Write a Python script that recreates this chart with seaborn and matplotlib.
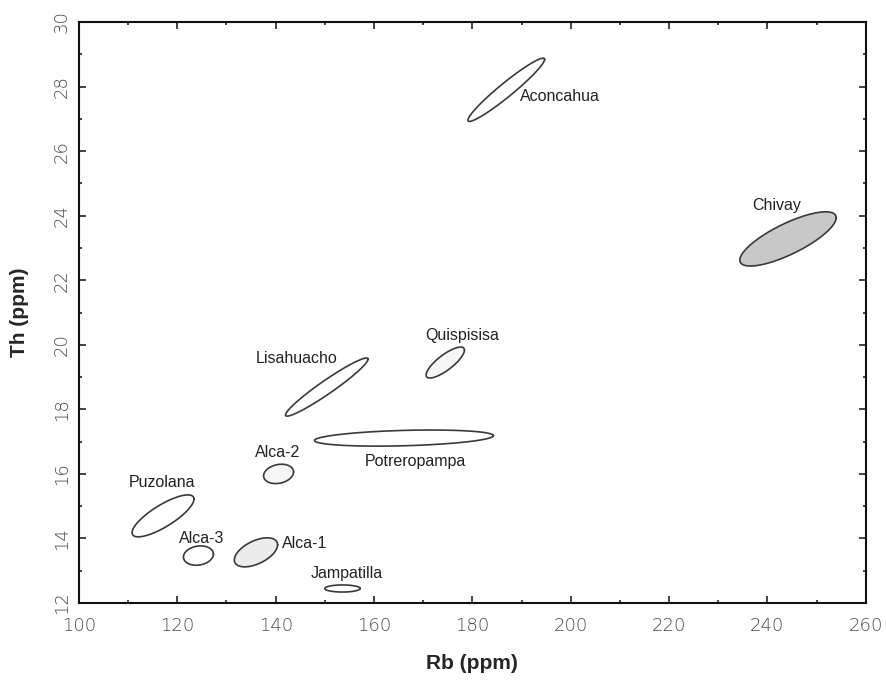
import numpy as np
import pandas as pd
import matplotlib
matplotlib.use("Agg")
import matplotlib.pyplot as plt
import seaborn as sns

# Obsidian source fields: mean Rb / Th and spread of each group
suites = ["Aconcahua", "Chivay", "Lisahuacho", "Quispisisa", "Potreropampa",
          "Puzolana", "Alca-2", "Alca-3", "Alca-1", "Jampatilla"]
rb_mean = [186.9, 244.2, 150.4, 174.5, 166.1, 117.1, 140.6, 124.3, 136.0, 153.6]
th_mean = [27.90, 23.28, 18.69, 19.45, 17.11, 14.70, 16.00, 13.47, 13.57, 12.45]
rb_spread = [7.8, 9.8, 8.4, 3.9, 18.2, 6.3, 3.05, 3.05, 4.4, 3.6]
th_spread = [0.98, 0.84, 0.90, 0.48, 0.25, 0.65, 0.30, 0.30, 0.45, 0.11]
correlation = [0.96, 0.78, 0.96, 0.80, 0.30, 0.80, 0.20, 0.15, 0.52, 0.0]

x_ticks = [100, 120, 140, 160, 180, 200, 220, 240, 260]
y_ticks = [12, 14, 16, 18, 20, 22, 24, 26, 28, 30]

# shading of each field and where its name sits (x, y, horizontal alignment)
fills = {"Chivay": "#c8c8c8", "Alca-1": "#ececec", "Alca-2": "#f6f6f6",
         "Quispisisa": "#f6f6f6"}
label_pos = {
    "Aconcahua": (189.6, 27.68, "left"),
    "Chivay": (241.8, 24.33, "center"),
    "Lisahuacho": (144.3, 19.56, "center"),
    "Quispisisa": (178.0, 20.30, "center"),
    "Potreropampa": (168.4, 16.37, "center"),
    "Puzolana": (116.8, 15.72, "center"),
    "Alca-2": (140.4, 16.65, "center"),
    "Alca-3": (124.9, 14.01, "center"),
    "Alca-1": (141.2, 13.83, "left"),
    "Jampatilla": (154.5, 12.93, "center"),
}

sns.set_theme(style="ticks")
plt.rcParams["font.family"] = ["Liberation Sans", "DejaVu Sans"]

# outline of each field: x = cx + sx cos t, y = cy + sy cos(t - phi), rho = cos(phi)
t = np.linspace(0, 2 * np.pi, 361)
rows = []
for name, cx, cy, sx, sy, r in zip(suites, rb_mean, th_mean, rb_spread,
                                    th_spread, correlation):
    phi = np.arccos(r)
    rows.append(pd.DataFrame({"suite": name, "order": np.arange(t.size),
                              "Rb": cx + sx * np.cos(t),
                              "Th": cy + sy * np.cos(t - phi)}))
outlines = pd.concat(rows, ignore_index=True)

fig, ax = plt.subplots(figsize=(8.87, 6.81), dpi=100)
fig.subplots_adjust(left=0.089, right=0.976, bottom=0.1145, top=0.9677)

for name, grp in outlines.groupby("suite", sort=False):
    if name in fills:
        ax.fill(grp["Rb"], grp["Th"], color=fills[name], lw=0, zorder=1)

sns.lineplot(data=outlines, x="Rb", y="Th", units="suite", estimator=None,
             sort=False, color="#3a3a3a", linewidth=1.2, ax=ax, zorder=2)

for name in suites:
    lx, ly, ha = label_pos[name]
    ax.text(lx, ly, name, ha=ha, va="center", fontsize=11.5, color="#222222")

ax.set_xlim(100, 260)
ax.set_ylim(12, 30)
ax.set_xticks(x_ticks)
ax.set_yticks(y_ticks)
ax.set_xticks(np.arange(110, 260, 20), minor=True)
ax.set_yticks(np.arange(13, 30, 2), minor=True)
ax.set_xticklabels([str(v) for v in x_ticks])
ax.set_yticklabels([str(v) for v in y_ticks], rotation=90, va="center")

for side in ["left", "right", "top", "bottom"]:
    ax.spines[side].set_visible(True)
    ax.spines[side].set_linewidth(1.5)
    ax.spines[side].set_color("#111111")

ax.tick_params(which="both", direction="in", top=True, right=True,
               color="#111111", width=1.1)
ax.tick_params(which="major", length=5, labelsize=13, labelcolor="#4a4a4a")
ax.tick_params(axis="x", which="major", pad=10)
ax.tick_params(axis="y", which="major", pad=6)
ax.tick_params(which="minor", length=2.5)
for lab in ax.get_xticklabels() + ax.get_yticklabels():
    lab.set_fontfamily(["DejaVu Sans"])
    lab.set_fontweight("light")

ax.set_xlabel("Rb (ppm)", fontsize=15, fontweight="bold", labelpad=14)
ax.set_ylabel("Th (ppm)", fontsize=15, fontweight="bold", labelpad=17)
ax.grid(False)

fig.savefig("out.png", dpi=100, facecolor="white")
